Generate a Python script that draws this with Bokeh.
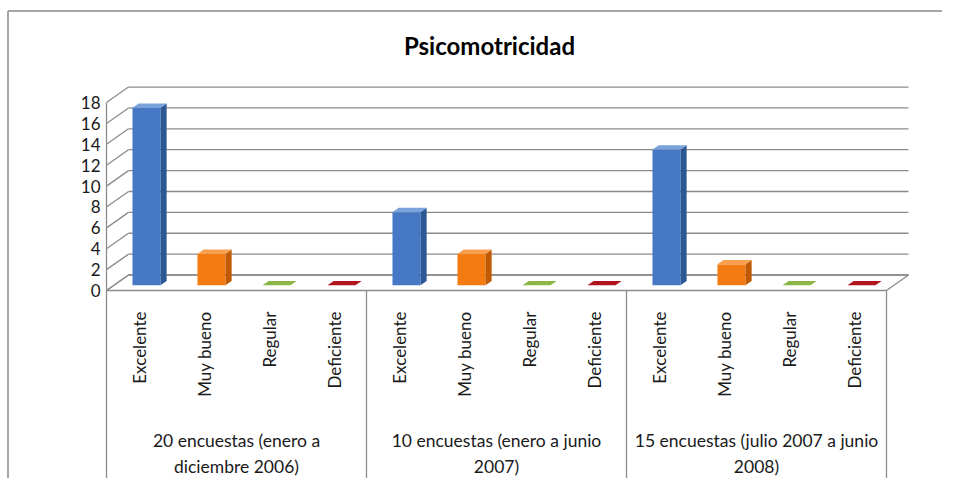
import numpy as np
from bokeh.plotting import figure
from bokeh.models import Range1d
from bokeh.core.properties import value
from bokeh.embed import file_html
from bokeh.resources import INLINE

# ---------------- data ----------------
title = "Psicomotricidad"
groups = ["20 encuestas (enero a\ndiciembre 2006)",
          "10 encuestas (enero a junio\n2007)",
          "15 encuestas (julio 2007 a junio\n2008)"]
categories = ["Excelente", "Muy bueno", "Regular", "Deficiente"]
values_g1 = [17, 3, 0, 0]
values_g2 = [7, 3, 0, 0]
values_g3 = [13, 2, 0, 0]
y_ticks = [0, 2, 4, 6, 8, 10, 12, 14, 16, 18]

# ---------------- styles ----------------
front_colors = ["#4678c6", "#f47a12", "#8cb646", "#b0141c"]
side_colors = ["#2c5896", "#c05a04", "#6a8c30", "#7e0c12"]
top_colors = ["#7aa2dc", "#f8a050", "#9cc454", "#c42028"]
FONT = "Lato"

W, H = 942, 478            # figure size
OFF = 0                    # page offset of the canvas as photographed
X0, CW = 106, 65           # page px of front-left edge, px per category
Y0, UY = 290, 10.44        # page px of front zero, px per unit
DX, DY = 22, 15.5          # depth of the 3D box in px
ddx, ddy = DX / CW, DY / UY

def px2x(px):
    return (px - X0) / CW

def py2y(py):
    return (Y0 - py) / UY

p = figure(width=W, height=H,
           x_range=Range1d(px2x(OFF), px2x(OFF + W)),
           y_range=Range1d(py2y(OFF + H), py2y(OFF)),
           output_backend="svg", toolbar_location=None,
           x_axis_location=None, y_axis_location=None, min_border=0)
p.grid.visible = False
p.outline_line_color = None
p.background_fill_color = "white"
p.border_fill_color = "white"

GRID = "#8c8c8c"

# outer chart border (left + top)
p.line([px2x(7.5), px2x(7.5)], [py2y(10.5), py2y(600)], line_color="#8a8a8a", line_width=1.5)
p.line([px2x(7.5), px2x(1200)], [py2y(10.5), py2y(10.5)], line_color="#8a8a8a", line_width=1.5)

n_groups, n_cats = len(groups), len(categories)
n = n_groups * n_cats
vals = np.array(values_g1 + values_g2 + values_g3, dtype=float)
y_max = max(y_ticks)

# floor
p.patch([0, n, n + ddx, ddx], [0, 0, ddy, ddy], fill_color="white",
        line_color=GRID, line_width=1.3)

# back wall gridlines and side-wall diagonals
p.multi_line([[ddx, n + ddx] for v in y_ticks], [[v + ddy, v + ddy] for v in y_ticks],
             line_color=GRID, line_width=1.3)
p.multi_line([[0, ddx] for v in y_ticks], [[v, v + ddy] for v in y_ticks],
             line_color=GRID, line_width=1.3)
# front vertical axis line
p.line([0, 0], [0, y_max], line_color=GRID, line_width=1.3)

# category separators below the floor
sep_x = [g * n_cats for g in range(n_groups + 1)]
p.multi_line([[x, x] for x in sep_x], [[0, py2y(487)] for x in sep_x],
             line_color=GRID, line_width=1.3)

# ---------------- 3D bars ----------------
bw = 28 / CW
f1, f2 = 0.34, 0.62
idx = np.arange(n)
cat_idx = idx % n_cats
left = idx + 0.5 - bw / 2 + f1 * ddx
right = left + bw
bottom = np.full(n, f1 * ddy)
top = vals + f1 * ddy
sdx, sdy = (f2 - f1) * ddx, (f2 - f1) * ddy

fc = [front_colors[c] for c in cat_idx]
sc = [side_colors[c] for c in cat_idx]
tc = [top_colors[c] for c in cat_idx]

pos = vals > 0
p.quad(left=left[pos], right=right[pos], bottom=bottom[pos], top=top[pos],
       fill_color=[fc[i] for i in idx[pos]], line_color=None)
p.patches([[r, r + sdx, r + sdx, r] for r in right[pos]],
          [[b, b + sdy, t + sdy, t] for b, t in zip(bottom[pos], top[pos])],
          fill_color=[sc[i] for i in idx[pos]], line_color=None)
p.patches([[l, r, r + sdx, l + sdx] for l, r in zip(left, right)],
          [[t, t, t + sdy, t + sdy] for t in top],
          fill_color=[tc[i] if vals[i] > 0 else fc[i] for i in idx], line_color=None)

# ---------------- texts ----------------
TXT = "#1a1a1a"
p.text(x=[px2x(100)] * len(y_ticks), y=y_ticks, text=[str(v) for v in y_ticks],
       text_align="right", text_baseline="middle", text_color=TXT,
       text_font=value(FONT), text_font_size="17px")

p.text(x=list(idx + 0.5), y=[py2y(311)] * n, text=[categories[c] for c in cat_idx],
       angle=np.pi / 2, text_align="right", text_baseline="middle", text_color=TXT,
       text_font=value(FONT), text_font_size="17px")

p.text(x=[g * n_cats + n_cats / 2 for g in range(n_groups)], y=[py2y(429)] * n_groups,
       text=groups, text_align="center", text_baseline="top", text_color=TXT,
       text_font=value(FONT), text_font_size="17.5px", text_line_height=1.25)

p.text(x=[px2x(489)], y=[py2y(45)], text=[title], text_align="center",
       text_baseline="middle", text_color="#000000", text_font=value(FONT),
       text_font_size="24px", text_font_style="bold")

open("out.html", "w").write(file_html(p, INLINE))
